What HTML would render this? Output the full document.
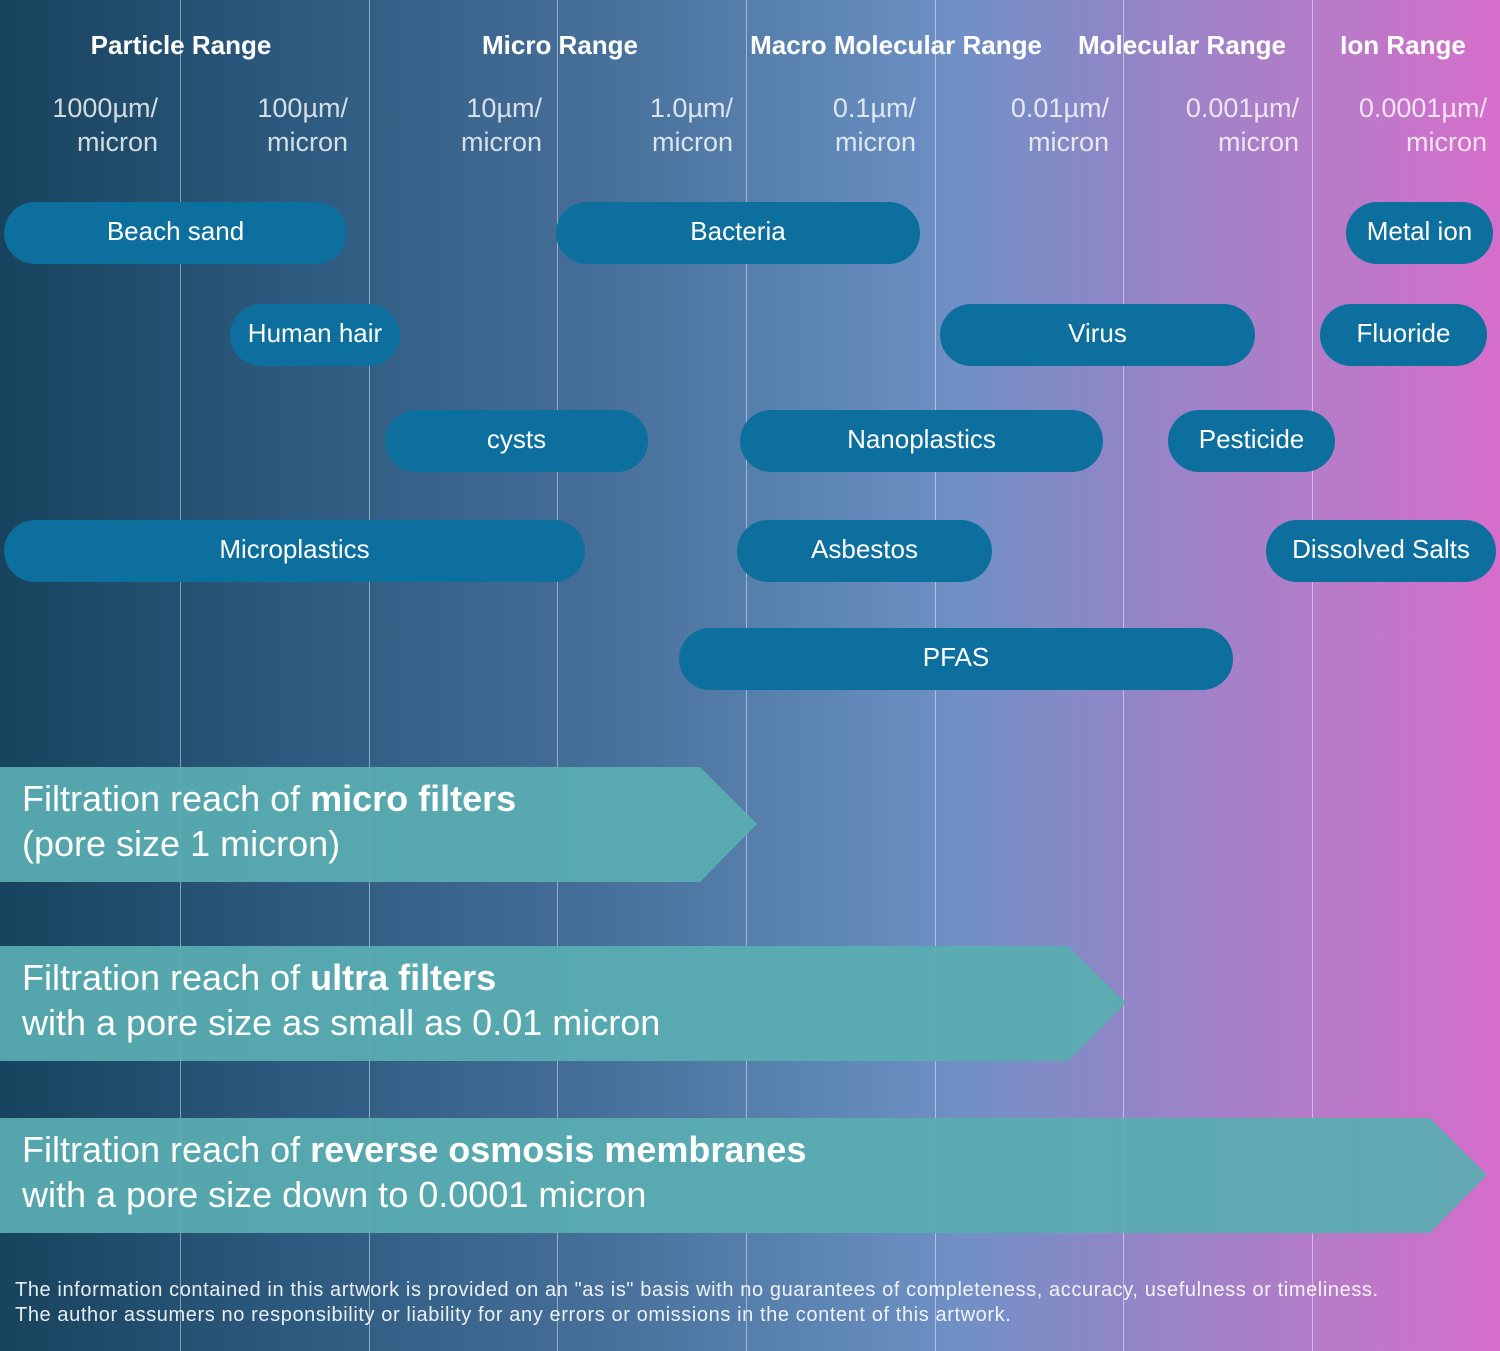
<!DOCTYPE html>
<html><head><meta charset="utf-8"><style>
html,body{margin:0;padding:0}
body{width:1500px;height:1351px;position:relative;overflow:hidden;font-family:"Liberation Sans","DejaVu Sans",sans-serif;
background:linear-gradient(90deg,#18435e 0%,#2d5a7f 20%,#466f99 40%,#5d86b4 55%,#7090c6 64%,#9485c7 76%,#b57cc8 88%,#d66ecb 100%);}
.v{position:absolute;top:0;height:1351px;width:1px;background:rgba(255,255,255,0.45)}
.h{position:absolute;top:30px;color:#fff;font-weight:bold;font-size:26px;white-space:nowrap;transform:translateX(-50%)}
.s{position:absolute;top:91px;color:rgba(255,255,255,0.8);font-size:27px;line-height:34px;text-align:right;white-space:nowrap}
.p{position:absolute;height:62px;border-radius:31px;background:#0d6f9d;color:#fff;font-size:26px;line-height:58px;text-align:center;white-space:nowrap}
.t{position:absolute;left:22px;color:#fff;font-size:36px;line-height:45px;white-space:nowrap}
.f{position:absolute;left:15px;color:rgba(255,255,255,0.9);font-size:20px;line-height:25px;top:1278px;white-space:nowrap;letter-spacing:0.6px}
</style></head><body>
<div class="v" style="left:180px"></div><div class="v" style="left:369px"></div><div class="v" style="left:557px"></div><div class="v" style="left:746px"></div><div class="v" style="left:935px"></div><div class="v" style="left:1123px"></div><div class="v" style="left:1312px"></div>
<div class="h" style="left:181px">Particle Range</div>
<div class="h" style="left:560px">Micro Range</div>
<div class="h" style="left:896px">Macro Molecular Range</div>
<div class="h" style="left:1182px">Molecular Range</div>
<div class="h" style="left:1403px">Ion Range</div>
<div class="s" style="right:1342px">1000µm/<br>micron</div>
<div class="s" style="right:1152px">100µm/<br>micron</div>
<div class="s" style="right:958px">10µm/<br>micron</div>
<div class="s" style="right:767px">1.0µm/<br>micron</div>
<div class="s" style="right:584px">0.1µm/<br>micron</div>
<div class="s" style="right:391px">0.01µm/<br>micron</div>
<div class="s" style="right:201px">0.001µm/<br>micron</div>
<div class="s" style="right:13px">0.0001µm/<br>micron</div>
<div class="p" style="left:4px;width:343px;top:202px">Beach sand</div>
<div class="p" style="left:556px;width:364px;top:202px">Bacteria</div>
<div class="p" style="left:1346px;width:147px;top:202px">Metal ion</div>
<div class="p" style="left:230px;width:170px;top:304px">Human hair</div>
<div class="p" style="left:940px;width:315px;top:304px">Virus</div>
<div class="p" style="left:1320px;width:167px;top:304px">Fluoride</div>
<div class="p" style="left:385px;width:263px;top:410px">cysts</div>
<div class="p" style="left:740px;width:363px;top:410px">Nanoplastics</div>
<div class="p" style="left:1168px;width:167px;top:410px">Pesticide</div>
<div class="p" style="left:4px;width:581px;top:520px">Microplastics</div>
<div class="p" style="left:737px;width:255px;top:520px">Asbestos</div>
<div class="p" style="left:1266px;width:230px;top:520px">Dissolved Salts</div>
<div class="p" style="left:679px;width:554px;top:628px">PFAS</div>
<svg style="position:absolute;left:0;top:0" width="1500" height="1351">
<g fill="#59adb2" fill-opacity="0.93">
<polygon points="0,767 700,767 757,824 700,882 0,882"/>
<polygon points="0,946 1068,946 1126,1003 1068,1061 0,1061"/>
<polygon points="0,1118 1430,1118 1487,1175 1430,1233 0,1233"/>
</g></svg>
<div class="t" style="top:776px">Filtration reach of <b>micro filters</b><br>(pore size 1 micron)</div>
<div class="t" style="top:955px">Filtration reach of <b>ultra filters</b><br>with a pore size as small as 0.01 micron</div>
<div class="t" style="top:1127px">Filtration reach of <b>reverse osmosis membranes</b><br>with a pore size down to 0.0001 micron</div>
<div class="f">The information contained in this artwork is provided on an "as is" basis with no guarantees of completeness, accuracy, usefulness or timeliness.<br>The author assumers no responsibility or liability for any errors or omissions in the content of this artwork.</div>
</body></html>
